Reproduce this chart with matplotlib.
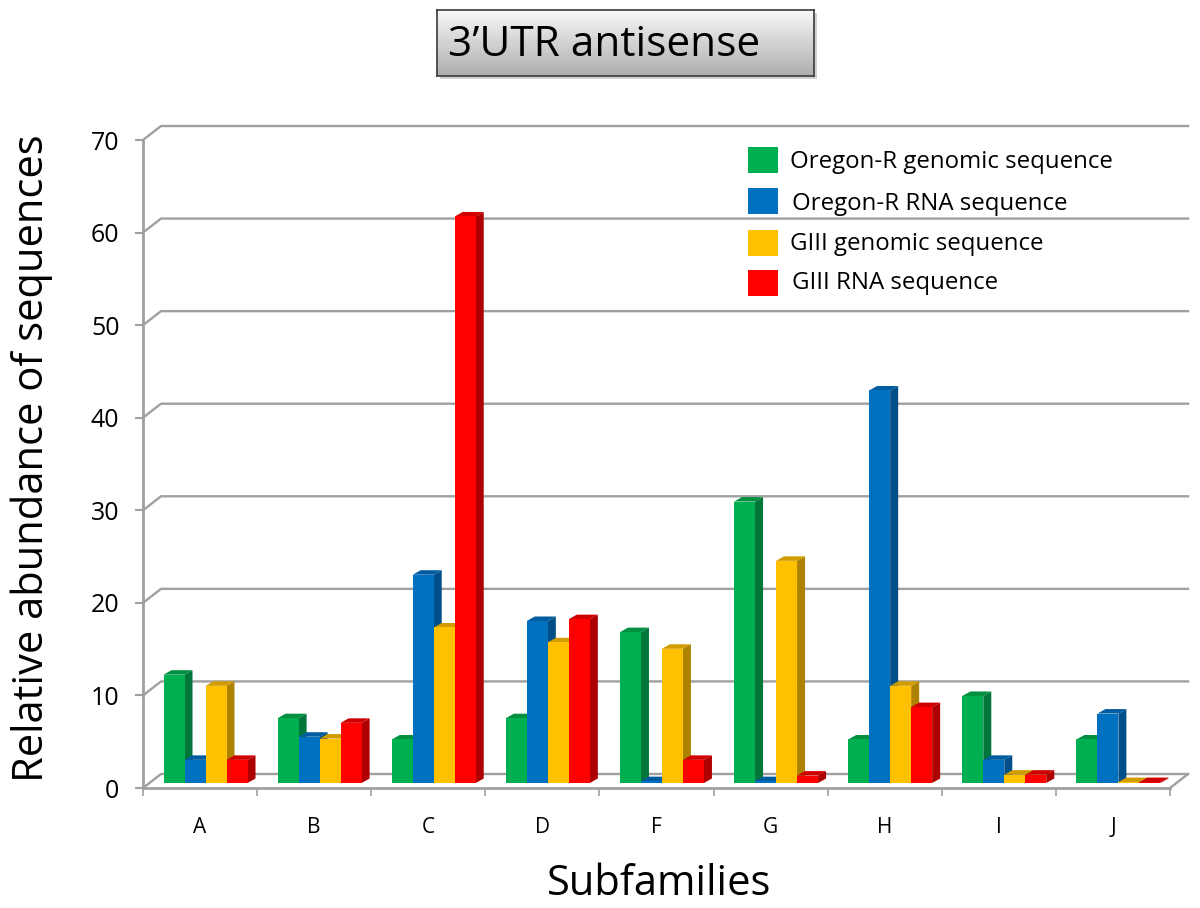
import numpy as np
import matplotlib
matplotlib.use('Agg')
import matplotlib.pyplot as plt
from matplotlib.patches import Rectangle

categories = ['A', 'B', 'C', 'D', 'F', 'G', 'H', 'I', 'J']
oregon_genomic = [11.7, 7.0, 4.7, 7.0, 16.3, 30.4, 4.7, 9.4, 4.7]
oregon_rna = [2.5, 5.0, 22.5, 17.5, 0.2, 0.2, 42.4, 2.5, 7.5]
giii_genomic = [10.5, 4.8, 16.8, 15.2, 14.5, 24.0, 10.5, 0.9, 0.1]
giii_rna = [2.5, 6.5, 61.2, 17.7, 2.5, 0.8, 8.2, 0.9, 0.1]
labels = ['Oregon-R genomic sequence', 'Oregon-R RNA sequence',
          'GIII genomic sequence', 'GIII RNA sequence']
yticks = [0, 10, 20, 30, 40, 50, 60, 70]

front_colors = ['#00B050', '#0070C0', '#FFC000', '#FF0000']
side_colors = ['#00763A', '#004F88', '#AD8200', '#AE0000']
top_colors = ['#009040', '#005CA0', '#D09C00', '#D00000']

W, H = 1200, 908
plt.rcParams['font.family'] = ['Open Sans', 'DejaVu Sans']


def px_box(x0, y0, x1, y1):
    return [x0 / W, 1 - y1 / H, (x1 - x0) / W, (y1 - y0) / H]


fig = plt.figure(figsize=(12, 9.08), dpi=100, facecolor='white')
ax = fig.add_axes(px_box(143, 140, 1170, 788))
ax.set_xlim(0, 9)
ax.set_ylim(0, 70)

px_x = 9 / 1027
px_y = 70 / 648

# 后墙网格线
back_dx, back_dy = 18 * px_x, 14 * px_y
for t in yticks:
    ax.plot([0, back_dx, 9 + back_dx], [t, t + back_dy, t + back_dy],
            color='#A0A0A0', lw=1.7, clip_on=False, zorder=1)
ax.plot([9, 9 + back_dx], [0, back_dy], color='#A0A0A0', lw=1.7, clip_on=False, zorder=1)

# 柱子: 正面 + 侧面 + 顶面
series = [oregon_genomic, oregon_rna, giii_genomic, giii_rna]
w = 21 * px_x
start = 20.5 * px_x
base = 5 * px_y
dx, dy = 8 * px_x, 4.5 * px_y
z = 2
for i in range(len(categories)):
    for j, values in enumerate(series):
        x = i + start + j * w
        v = values[i]
        top = base + v
        ax.fill([x + w, x + w + dx, x + w + dx, x + w],
                [base, base + dy, top + dy, top],
                color=side_colors[j], lw=0, clip_on=False, zorder=z)
        ax.fill([x, x + dx, x + w + dx, x + w],
                [top, top + dy, top + dy, top],
                color=top_colors[j], lw=0, clip_on=False, zorder=z)
        ax.bar(x, v, width=w, bottom=base, align='edge', color=front_colors[j],
               lw=0, clip_on=False, zorder=z + 0.5)
        z += 1

for s in ['top', 'right']:
    ax.spines[s].set_visible(False)
for s in ['left', 'bottom']:
    ax.spines[s].set_color('#A0A0A0')
    ax.spines[s].set_linewidth(2)
    ax.spines[s].set_zorder(1)

ax.set_yticks(yticks)
ax.set_xticks(range(10))
ax.set_xticklabels([])
ax.set_xticks(np.arange(9) + 0.5, labels=categories, minor=True)
ax.tick_params(axis='y', length=6, width=1.5, color='#A0A0A0', labelsize=18, pad=11)
ax.tick_params(axis='x', which='major', length=6, width=1.2, color='#A0A0A0')
ax.tick_params(axis='x', which='minor', length=0, labelsize=15, pad=21)

fig.text(32 / W, 1 - 458 / H, 'Relative abundance of sequences', rotation=90,
         ha='center', va='center', fontsize=30)
fig.text(659 / W, 1 - 884 / H, 'Subfamilies', ha='center', va='center', fontsize=30)

# 图例
legend_y = [160, 201, 243, 283]
text_y = [162, 204, 244, 283]
legend_x = [790, 792, 790, 792]
for i in range(4):
    fig.add_artist(Rectangle((748 / W, 1 - (legend_y[i] + 12.5) / H), 30 / W, 25 / H,
                             transform=fig.transFigure, color=front_colors[i], lw=0))
    fig.text(legend_x[i] / W, 1 - text_y[i] / H, labels[i], va='center', fontsize=17.3)

# 标题框
shadow = fig.add_axes(px_box(440, 13, 817, 79))
shadow.axis('off')
shadow.add_patch(Rectangle((0, 0), 1, 1, color='#D0D0D0', lw=0))
title_ax = fig.add_axes(px_box(437, 10, 814, 76))
title_ax.imshow(np.linspace(0.97, 0.68, 64).reshape(-1, 1), cmap='gray', vmin=0, vmax=1,
                aspect='auto', extent=[0, 1, 0, 1])
title_ax.set_xticks([])
title_ax.set_yticks([])
for s in title_ax.spines.values():
    s.set_color('#3A3A3A')
    s.set_linewidth(1.2)
fig.text(448 / W, 1 - 45 / H, '3\u2019UTR antisense', va='center', fontsize=30.5)

fig.savefig('out.png', dpi=100)
